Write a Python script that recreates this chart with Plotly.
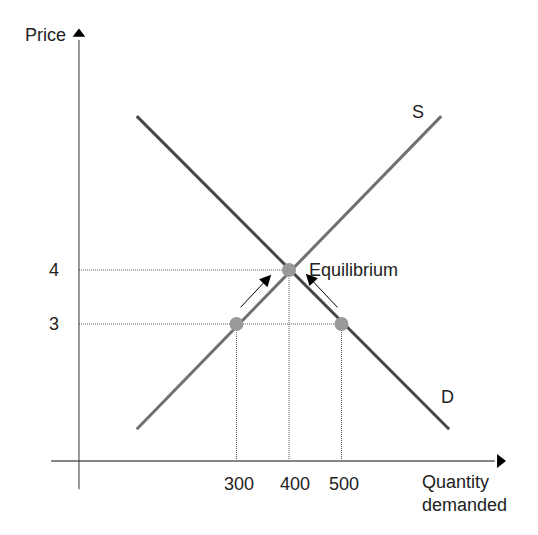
import plotly.graph_objects as go

# courbes offre / demande (quantité, prix)
supply_q = [110, 690]
supply_p = [1.05, 6.85]
demand_q = [110, 705]
demand_p = [6.85, 1.05]

# points marqués
points_q = [300, 400, 500]
points_p = [3, 4, 3]

# flèches vers l'équilibre (queue -> tête)
arrow_tail_q = [305, 495]
arrow_tail_p = [3.28, 3.28]
arrow_head_q = [366, 432]
arrow_head_p = [3.91, 3.93]

x_ticks = [300, 400, 500]
x_tick_shift = [3, 6, 2]
y_ticks = [3, 4]

# axes dessinés à la main
axis_y_level = 0.463       # niveau du trait horizontal
x_axis_start, x_axis_end = -53, 792
y_axis_start, y_axis_end = -0.06, 8.26

font = dict(family="Liberation Sans, Arial, sans-serif", size=18, color="#222222")

fig = go.Figure()

# offre et demande
fig.add_trace(go.Scatter(x=supply_q, y=supply_p, mode="lines",
                         line=dict(color="#707070", width=3), showlegend=False, hoverinfo="skip"))
fig.add_trace(go.Scatter(x=demand_q, y=demand_p, mode="lines",
                         line=dict(color="#474747", width=3), showlegend=False, hoverinfo="skip"))

# pointillés vers les axes
dot = dict(color="#555555", width=1, dash="1px,1px")
for q, p in zip(points_q, points_p):
    fig.add_shape(type="line", x0=q, y0=p, x1=q, y1=axis_y_level, line=dot, layer="below")
fig.add_shape(type="line", x0=0, y0=4, x1=400, y1=4, line=dot, layer="below")
fig.add_shape(type="line", x0=0, y0=3, x1=500, y1=3, line=dot, layer="below")

fig.add_trace(go.Scatter(x=points_q, y=points_p, mode="markers",
                         marker=dict(color="#999999", size=14), showlegend=False, hoverinfo="skip"))

# axes
fig.add_shape(type="line", x0=x_axis_start, y0=axis_y_level, x1=x_axis_end, y1=axis_y_level,
              line=dict(color="#858585", width=2))
fig.add_shape(type="line", x0=0, y0=y_axis_start, x1=0, y1=y_axis_end,
              line=dict(color="#333333", width=1))
fig.add_trace(go.Scatter(x=[x_axis_end + 10], y=[axis_y_level], mode="markers",
                         marker=dict(symbol="triangle-right", color="black", size=12),
                         showlegend=False, hoverinfo="skip"))
fig.add_trace(go.Scatter(x=[0], y=[y_axis_end + 0.11], mode="markers",
                         marker=dict(symbol="triangle-up", color="black", size=11),
                         showlegend=False, hoverinfo="skip"))

# flèches
for tq, tp, hq, hp in zip(arrow_tail_q, arrow_tail_p, arrow_head_q, arrow_head_p):
    fig.add_annotation(x=hq, y=hp, ax=tq, ay=tp, xref="x", yref="y", axref="x", ayref="y",
                       showarrow=True, arrowhead=2, arrowsize=2.3, arrowwidth=1,
                       arrowcolor="black", text="")

# textes
for q, s in zip(x_ticks, x_tick_shift):
    fig.add_annotation(x=q, y=axis_y_level, text=str(q), showarrow=False,
                       xshift=s, yshift=-23, font=font)
for p in y_ticks:
    fig.add_annotation(x=0, y=p, text=str(p), showarrow=False, xshift=-25, font=font)

fig.add_annotation(x=0, y=8.35, text="Price", showarrow=False, xanchor="right",
                   xshift=-11, font=font)
fig.add_annotation(x=646, y=6.93, text="S", showarrow=False, font=font)
fig.add_annotation(x=701, y=1.65, text="D", showarrow=False, font=font)
fig.add_annotation(x=400, y=4, text="Equilibrium", showarrow=False, xanchor="left",
                   xshift=18, font=font)
fig.add_annotation(x=650, y=axis_y_level, text="Quantity<br>demanded", showarrow=False,
                   xanchor="left", align="left", yshift=-33, font=font)

# la page ajoute 8 px de marge : plages décalées en conséquence
fig.update_layout(
    width=538, height=535,
    margin=dict(l=0, r=0, t=0, b=0),
    plot_bgcolor="white", paper_bgcolor="white",
    xaxis=dict(range=[-135.2, 889.5], visible=False, fixedrange=True),
    yaxis=dict(range=[-1.056, 8.852], visible=False, fixedrange=True),
    font=font,
)

fig.write_html("out.html")
